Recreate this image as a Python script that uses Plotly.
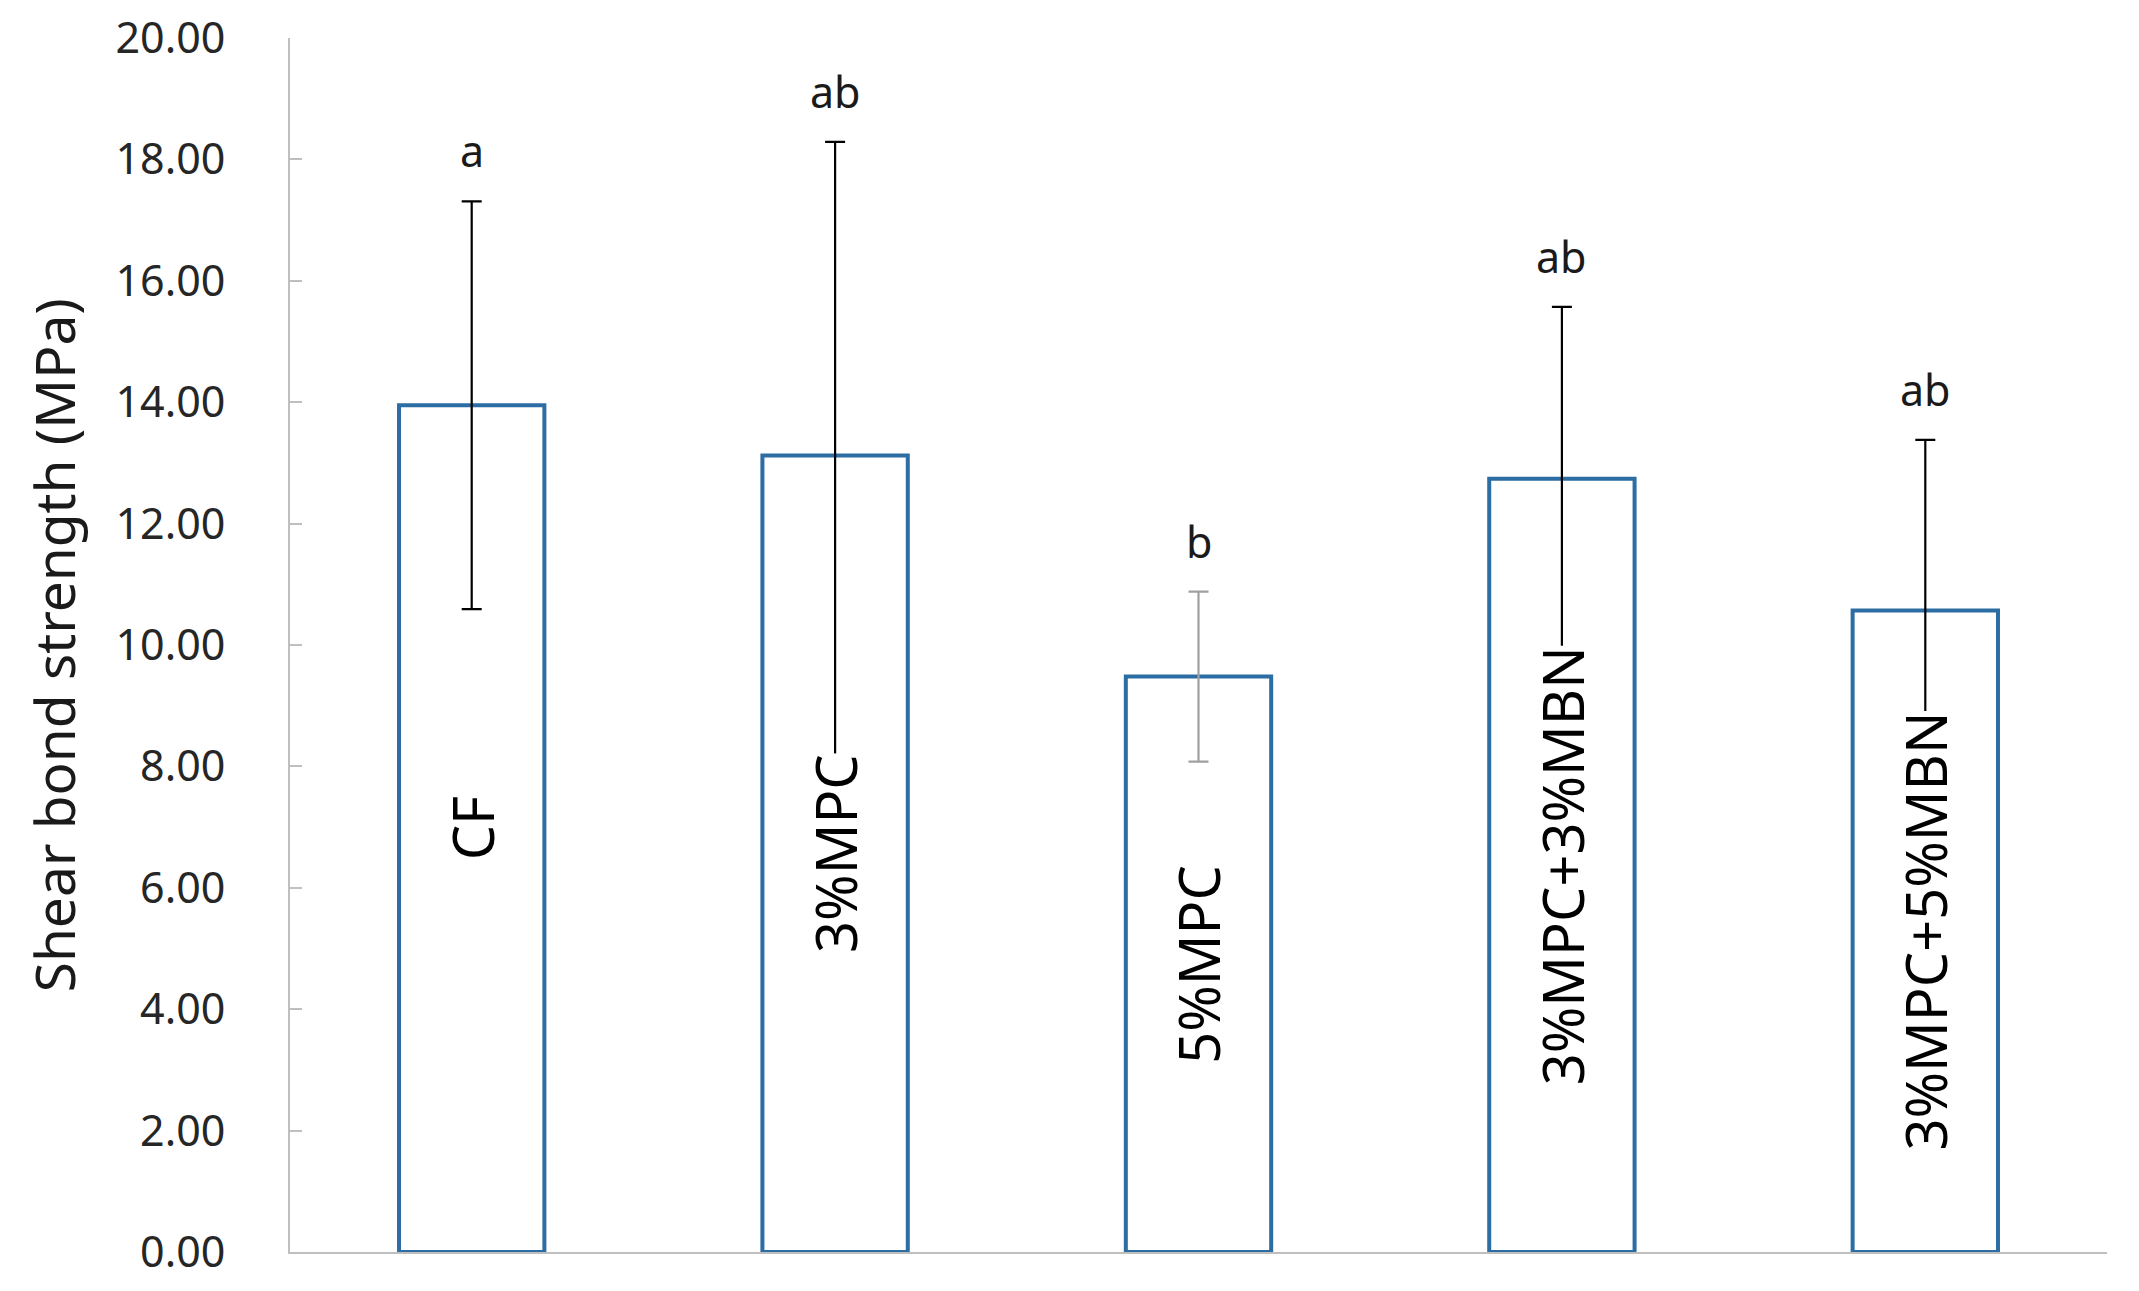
import plotly.graph_objects as go

categories = ["CF", "3%MPC", "5%MPC", "3%MPC+3%MBN", "3%MPC+5%MBN"]
strength = [13.95, 13.12, 9.48, 12.74, 10.57]
sd = [3.36, 5.17, 1.40, 2.83, 2.81]
letters = ["a", "ab", "b", "ab", "ab"]
y_ticks = [0, 2, 4, 6, 8, 10, 12, 14, 16, 18, 20]

bar_blue = "#2C6DA4"
err_colors = ["black", "black", "#A0A0A0", "black", "black"]
font_family = "Noto Sans"

fig = go.Figure()

# one trace per bar so each error bar can have its own colour
for i, cat in enumerate(categories):
    fig.add_trace(go.Bar(
        x=[cat],
        y=[strength[i]],
        width=0.4,
        marker=dict(color="white", line=dict(color=bar_blue, width=4)),
        error_y=dict(type="data", array=[sd[i]], visible=True,
                     color=err_colors[i], thickness=2.2, width=10),
        showlegend=False,
    ))

    # significance letters above the error bars
    fig.add_annotation(
        x=cat, y=strength[i] + sd[i],
        text=letters[i], showarrow=False,
        yanchor="bottom", yshift=19,
        font=dict(family=font_family, size=43, color="#1A1A1A"),
    )

    # rotated group names centred inside each bar
    fig.add_annotation(
        x=cat, y=strength[i] / 2,
        text=cat, showarrow=False, textangle=-90,
        bgcolor="white", borderpad=0,
        font=dict(family=font_family, size=56, color="black"),
    )

fig.add_annotation(
    xref="paper", yref="paper", x=-0.152, y=0.5,
    text="Shear bond strength (MPa)", showarrow=False, textangle=-90,
    font=dict(family=font_family, size=55, color="#1A1A1A"),
)

# page body has an 8px margin, so the figure is a bit smaller than the window
fig.update_layout(
    width=2131, height=1283,
    margin=dict(l=282, r=32, t=30, b=39),
    plot_bgcolor="white", paper_bgcolor="white",
    barmode="overlay",
    xaxis=dict(
        range=[-0.5, 4.5], showticklabels=False, ticks="",
        showline=True, linecolor="#BFBFBF", linewidth=2,
        showgrid=False, zeroline=False, automargin=False,
    ),
    yaxis=dict(
        range=[0, 20], tickvals=y_ticks,
        ticktext=[f"{v:.2f}" for v in y_ticks],
        ticks="inside", ticklen=12, tickwidth=2, tickcolor="#BFBFBF",
        ticklabelstandoff=54, ticklabeloverflow="allow", automargin=False,
        showline=True, linecolor="#BFBFBF", linewidth=2,
        showgrid=False, zeroline=False,
        tickfont=dict(family=font_family, size=43, color="#262626"),
    ),
)

fig.write_html("out.html")
